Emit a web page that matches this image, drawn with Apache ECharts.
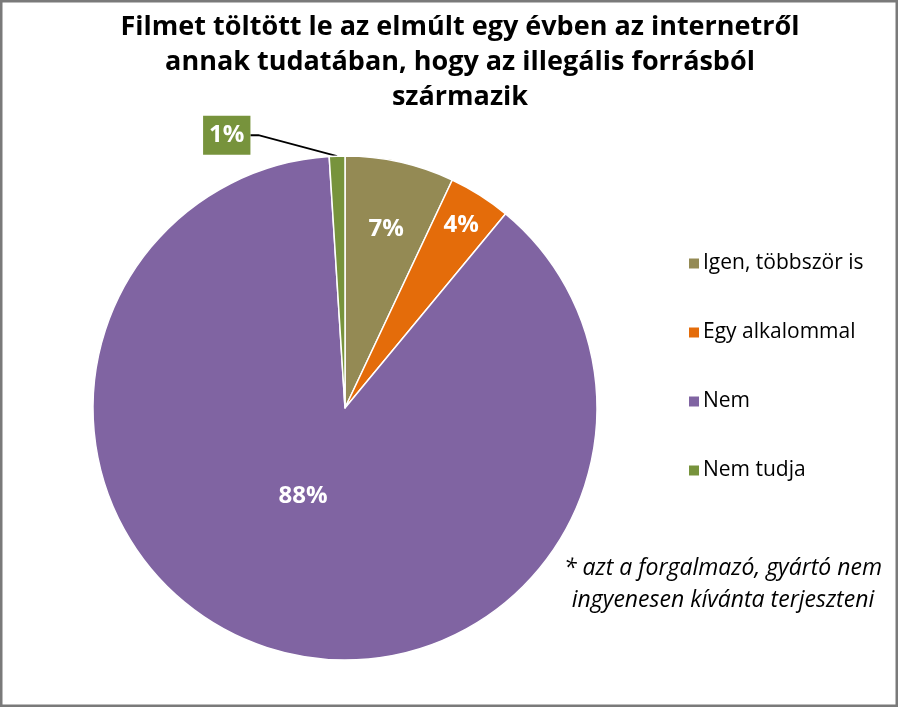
<!DOCTYPE html>
<html>
<head>
<meta charset="utf-8">
<script src="https://cdn.jsdelivr.net/npm/echarts@6/dist/echarts.min.js"></script>
<style>
html,body{margin:0;padding:0;background:#fff;}
#chart{width:899px;height:707px;}
</style>
</head>
<body>
<div id="chart"></div>
<script>
var titleText = 'Filmet töltött le az elmúlt egy évben az internetről\nannak tudatában, hogy az illegális forrásból\nszármazik';
var categories = ['Igen, többször is', 'Egy alkalommal', 'Nem', 'Nem tudja'];
var values = [7, 4, 88, 1];
var colors = ['#948A54', '#E46C0A', '#8064A2', '#77933C'];
var footnote = '* azt a forgalmazó, gyártó nem\ningyenesen kívánta terjeszteni';

var FONT = '"Open Sans", Lato, sans-serif';
var labelShift = [[13, -53], [47, -74], [-2, -35], [0, 0]];

var chart = echarts.init(document.getElementById('chart'), null, {renderer: 'canvas'});
var data = categories.map(function (c, i) {
  var item = {name: c, value: values[i], itemStyle: {color: colors[i]}};
  if (i === 3) {
    item.label = {
      position: 'outside',
      backgroundColor: colors[i],
      padding: [8, 6, 7, 6],
      color: '#fff'
    };
    item.labelLine = {show: true, length: 12, length2: 8, lineStyle: {color: '#000', width: 1.8}};
  }
  return item;
});

chart.setOption({
  backgroundColor: '#fff',
  animation: false,
  graphic: [
    {type: 'rect', shape: {x: 1.25, y: 1.25, width: 895.5, height: 704.5}, style: {fill: 'none', stroke: '#7a7a7a', lineWidth: 2.5}, z: 100},
    {type: 'text', x: 460, y: 10, style: {text: titleText, font: 'bold 27px ' + FONT, textAlign: 'center', lineHeight: 35, fill: '#000'}},
    {type: 'text', x: 723, y: 552, style: {text: footnote, font: 'italic 23px ' + FONT, textAlign: 'center', lineHeight: 32, fill: '#000'}}
  ],
  legend: {
    orient: 'vertical',
    left: 682,
    top: 248,
    icon: 'rect',
    itemWidth: 12,
    itemHeight: 12,
    itemGap: 48,
    textStyle: {fontFamily: FONT, fontSize: 21, lineHeight: 20, color: '#000', padding: [0, 0, 0, -2]},
    data: categories
  },
  series: [{
    type: 'pie',
    center: [345, 408],
    radius: [0, 252],
    startAngle: 90,
    clockwise: true,
    data: data,
    itemStyle: {borderColor: '#fff', borderWidth: 1.5},
    label: {
      show: true,
      position: 'inside',
      formatter: function (p) { return p.value + '%'; },
      color: '#fff',
      fontFamily: FONT,
      fontWeight: 'bold',
      fontSize: 24
    },
    labelLine: {show: false},
    labelLayout: function (p) {
      if (p.dataIndex === 3) {
        var r = p.labelRect;
        return {x: p.rect.x - 78 - r.width / 2, y: p.rect.y - 20, align: 'center', verticalAlign: 'middle'};
      }
      var s = labelShift[p.dataIndex];
      return {dx: s[0], dy: s[1]};
    },
    emphasis: {disabled: true}
  }]
});
</script>
</body>
</html>
